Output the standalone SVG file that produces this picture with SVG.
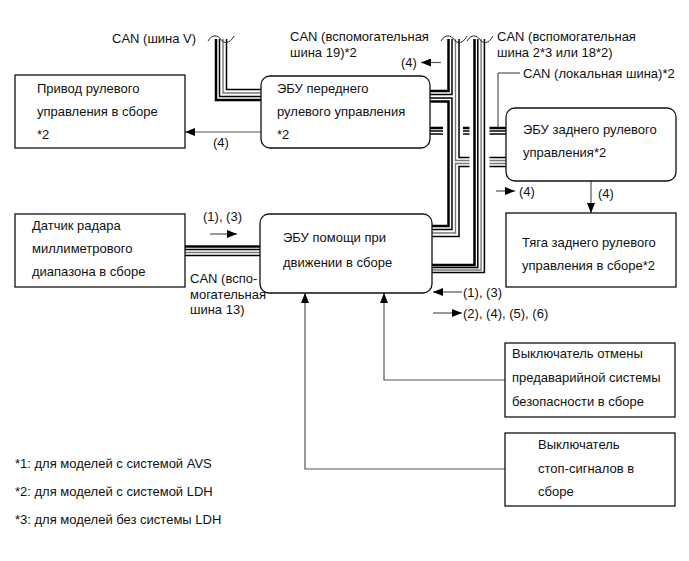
<svg xmlns="http://www.w3.org/2000/svg" width="689" height="561" viewBox="0 0 689 561">
<style>
text{font-family:"Liberation Sans",Arial,sans-serif;font-size:13px;fill:#111}
.box{fill:#fff;stroke:#111;stroke-width:1.3}
.bt{fill:none;stroke:#000;stroke-width:2.5}
.bb{fill:none;stroke:#000;stroke-width:1.5}
.bg{fill:none;stroke:#777;stroke-width:1.4}
.wave{fill:none;stroke:#222;stroke-width:1}
.con{fill:none;stroke:#555;stroke-width:1.2}
.halo{fill:#fff;stroke:none}
</style>
<defs>
<marker id="ah" viewBox="0 0 10 8" refX="10" refY="4" markerWidth="10" markerHeight="8" markerUnits="userSpaceOnUse" orient="auto">
<path d="M0,0 L10,4 L0,8 z" fill="#000"/>
</marker>
</defs>
<rect width="689" height="561" fill="#fff"/>

<g id="connectors">
<!-- CAN bus V -->
<path class="bt" d="M216,39 V100 H261"/>
<path class="bb" d="M219.5,39 V96.5 H261"/>
<path class="bg" d="M223,39 V93 H261"/>
<path class="bb" d="M226.5,39 V89.5 H261"/>
<path class="wave" d="M208,41 C212,34 218,35 221,39.5 S230,44 234,36"/>
<!-- horizontal bus front ECU - rear ECU -->
<path class="bt" d="M430,128 H506"/>
<path class="bb" d="M430,131 H506"/>
<path class="bb" d="M430,134 H506"/>
<rect class="halo" x="443" y="124" width="20" height="14"/>
<!-- left group: bus 19 -->
<path class="bt" d="M448.5,39 V91 H430"/>
<path class="bb" d="M452,39 V94.5 H430"/>
<path class="bb" d="M430,98 H452 V229.5 H432"/>
<path class="bt" d="M430,101.5 H448.5 V226 H432"/>
<path class="bb" d="M459,39 V157.5 H506"/>
<path class="bg" d="M455.5,39 V160.5 H506"/>
<path class="bg" d="M506,163.5 H455.5 V233 H432"/>
<path class="bb" d="M506,166.5 H459 V236.5 H432"/>
<path class="wave" d="M441,41 C445,34 451,35 454,39.5 S463,44 467,36"/>
<!-- right group: bus 2/18 -->
<rect class="halo" x="469.5" y="124" width="20" height="14"/>
<rect class="halo" x="469.5" y="154" width="20" height="16"/>
<path class="bt" d="M474.5,39 V265 H432"/>
<path class="bb" d="M477.8,39 V267.5 H432"/>
<path class="bg" d="M481.1,39 V270 H432"/>
<path class="bb" d="M484.4,39 V272.5 H432"/>
<path class="wave" d="M467,41 C471,34 477,35 480,39.5 S489,44 493,36"/>
<!-- local bus leader -->
<path fill="none" stroke="#333" stroke-width="1" d="M520,73 H498 V128"/>
<!-- bus 13 -->
<path class="bt" d="M185,246.5 H260"/>
<path class="bb" d="M185,249.5 H260"/>
<path class="bg" d="M185,252.5 H260"/>
<path class="bb" d="M185,255.5 H260"/>
<!-- signal connectors -->
<path class="con" d="M261,132 H185" marker-end="url(#ah)"/>
<path class="con" d="M591,181 V213" marker-end="url(#ah)"/>
<path class="con" d="M505,380 H384 V293" marker-end="url(#ah)"/>
<path class="con" d="M505,469 H305 V293" marker-end="url(#ah)"/>
<!-- direction indicator arrows -->
<path class="con" d="M441,62.5 H421" marker-end="url(#ah)"/>
<path class="con" d="M210,234 H237" marker-end="url(#ah)"/>
<path class="con" d="M496,191 H515" marker-end="url(#ah)"/>
<path class="con" d="M462,292 H433" marker-end="url(#ah)"/>
<path class="con" d="M433,313 H462" marker-end="url(#ah)"/>
</g>

<g id="bus-labels">
<text x="112" y="42.5">CAN (шина V)</text>
<text x="290" y="40.5">CAN (вспомогательная</text>
<text x="290" y="56.5">шина 19)*2</text>
<text x="497" y="40.5">CAN (вспомогательная</text>
<text x="497" y="56.5">шина 2*3 или 18*2)</text>
<text x="523" y="77.5">CAN (локальная шина)*2</text>
<text x="190" y="283">CAN (вспо-</text>
<text x="190" y="298.5">могательная</text>
<text x="190" y="314">шина 13)</text>
<text x="401" y="67">(4)</text>
<text x="213" y="147">(4)</text>
<text x="203" y="221">(1), (3)</text>
<text x="519" y="195.5">(4)</text>
<text x="598" y="198">(4)</text>
<text x="463" y="296.5">(1), (3)</text>
<text x="463" y="317.5">(2), (4), (5), (6)</text>
</g>

<g id="actuator">
<rect class="box" x="15" y="75" width="170" height="73"/>
<text x="37" y="93">Привод рулевого</text>
<text x="37" y="116">управления в сборе</text>
<text x="37" y="139">*2</text>
</g>

<g id="front-ecu">
<rect class="box" x="261" y="76" width="169" height="72" rx="9"/>
<text x="277" y="93">ЭБУ переднего</text>
<text x="277" y="116">рулевого управления</text>
<text x="277" y="139">*2</text>
</g>

<g id="rear-ecu">
<rect class="box" x="506" y="108" width="170" height="73" rx="9"/>
<text x="523" y="134">ЭБУ заднего рулевого</text>
<text x="523" y="157">управления*2</text>
</g>

<g id="radar">
<rect class="box" x="15" y="214" width="170" height="73"/>
<text x="32" y="229.5">Датчик радара</text>
<text x="32" y="252.5">миллиметрового</text>
<text x="32" y="276">диапазона в сборе</text>
</g>

<g id="driving-ecu">
<rect class="box" x="260" y="214" width="172" height="79" rx="9"/>
<text x="283" y="241.5">ЭБУ помощи при</text>
<text x="283" y="266.5">движении в сборе</text>
</g>

<g id="rear-link">
<rect class="box" x="506" y="213" width="170" height="74"/>
<text x="522" y="246.5">Тяга заднего рулевого</text>
<text x="522" y="270">управления в сборе*2</text>
</g>

<g id="cancel-switch">
<rect class="box" x="505" y="343" width="170" height="74"/>
<text x="512" y="358">Выключатель отмены</text>
<text x="512" y="382">предаварийной системы</text>
<text x="512" y="406">безопасности в сборе</text>
</g>

<g id="stop-switch">
<rect class="box" x="505" y="433" width="170" height="73"/>
<text x="538" y="449">Выключатель</text>
<text x="538" y="473">стоп-сигналов в</text>
<text x="538" y="496">сборе</text>
</g>

<g id="notes">
<text x="15" y="467.5">*1: для моделей с системой AVS</text>
<text x="15" y="495.5">*2: для моделей с системой LDH</text>
<text x="15" y="524">*3: для моделей без системы LDH</text>
</g>
</svg>
